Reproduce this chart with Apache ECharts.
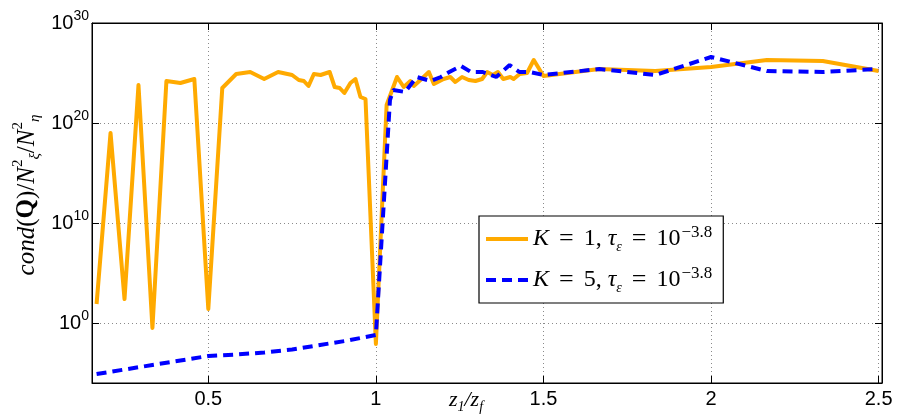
<!DOCTYPE html>
<html><head><meta charset="utf-8">
<script src="https://cdn.jsdelivr.net/npm/echarts@6/dist/echarts.min.js"></script>
<style>html,body{margin:0;padding:0;background:#fff}#c{width:897px;height:416px}</style>
</head><body><div id="c"></div>
<script>
// x axis ticks (z1/zf) and y axis ticks (decade exponents of cond(Q)/N^2/N^2)
const xTicks = [0.5, 1, 1.5, 2, 2.5];
const yTickExponents = [0, 10, 20, 30];

// Series K = 1 : x values and log10 of the plotted quantity
const k1X = [0.1667, 0.2083, 0.25, 0.2917, 0.3333, 0.375, 0.4167, 0.4583, 0.5, 0.5417, 0.5833, 0.625, 0.6667, 0.7083, 0.75,
  0.770, 0.785, 0.799, 0.815, 0.835, 0.862, 0.877, 0.892, 0.906, 0.924, 0.939, 0.954, 0.969, 1.0,
  1.032, 1.063, 1.083, 1.103, 1.113, 1.133, 1.158, 1.173, 1.202, 1.222, 1.237, 1.257, 1.277, 1.297, 1.317, 1.332, 1.349, 1.364, 1.380, 1.401, 1.411, 1.429, 1.451, 1.471, 1.5,
  1.6667, 1.8333, 2.0, 2.1667, 2.3333, 2.5];
const k1LogCond = [1.9, 19.0, 2.4, 23.8, -0.5, 24.2, 24.0, 24.4, 1.4, 23.5, 24.9, 25.1, 24.4, 25.1, 24.8,
  24.3, 24.2, 23.7, 24.9, 24.8, 25.1, 23.6, 23.5, 23.0, 24.0, 24.4, 22.6, 22.4, -2.1,
  21.8, 24.6, 23.6, 24.2, 23.7, 24.3, 25.1, 23.9, 24.4, 24.6, 24.1, 24.6, 24.3, 24.2, 24.4, 25.1, 24.8, 25.1, 24.4, 24.6, 24.4, 24.9, 25.0, 26.3, 24.7,
  25.4, 25.2, 25.6, 26.3, 26.2, 25.2];

// Series K = 5
const k5X = [0.1667, 0.25, 0.3333, 0.4167, 0.5, 0.5833, 0.6667, 0.75, 0.8333, 0.9167, 1.0,
  1.042, 1.052, 1.087, 1.122, 1.164, 1.194, 1.219, 1.254, 1.284, 1.319, 1.359, 1.399, 1.428, 1.458, 1.5,
  1.6667, 1.8333, 2.0, 2.1667, 2.3333, 2.5];
const k5LogCond = [-5.1, -4.65, -4.2, -3.75, -3.3, -3.15, -2.95, -2.65, -2.2, -1.75, -1.2,
  22.3, 23.3, 23.1, 24.6, 24.2, 24.6, 25.1, 25.7, 25.1, 25.1, 24.6, 25.8, 25.1, 25.1, 24.8,
  25.4, 24.8, 26.6, 25.2, 25.1, 25.4];

const seriesNames = ['K=1', 'K=5'];
const legendLabels = {
  'K=1': '{i|K}{eq|=}{r|1, }{i|τ}{sub|ε}{eq|=}{r|10}{sup|−3.8}',
  'K=5': '{i|K}{eq|=}{r|5, }{i|τ}{sub|ε}{eq|=}{r|10}{sup|−3.8}'
};

const pairs = (xs, ys) => xs.map((x, i) => [x, ys[i]]);
const serif = 'Liberation Serif';
const sans = 'Liberation Sans';

const chart = echarts.init(document.getElementById('c'), null, {renderer: 'canvas'});
const gridLine = {show: true, lineStyle: {color: '#8a8a8a', width: 1, type: [1, 3]}};
const blackLine = {show: true, onZero: false, lineStyle: {color: '#000', width: 1}};

chart.setOption({
  animation: false,
  backgroundColor: '#fff',
  grid: {left: 92, right: 15, top: 23, bottom: 33, show: true, borderColor: '#000', borderWidth: 1, backgroundColor: 'transparent'},
  xAxis: [{
    type: 'value', min: 0.153, max: 2.51, position: 'bottom',
    axisLine: blackLine,
    axisTick: {show: true, inside: true, length: 7, customValues: xTicks, lineStyle: {color: '#000'}},
    axisLabel: {show: true, customValues: xTicks, margin: 6, color: '#000', fontFamily: sans, fontSize: 20,
      formatter: v => String(v)},
    splitLine: gridLine
  }, {
    type: 'value', min: 0.153, max: 2.51, position: 'top',
    axisLine: blackLine,
    axisTick: {show: true, inside: true, length: 7, customValues: xTicks, lineStyle: {color: '#000'}},
    axisLabel: {show: false}, splitLine: {show: false}
  }],
  yAxis: [{
    type: 'value', min: -6, max: 30, position: 'left',
    axisLine: blackLine,
    axisTick: {show: true, inside: true, length: 7, customValues: yTickExponents, lineStyle: {color: '#000'}},
    axisLabel: {show: true, customValues: yTickExponents, margin: 3, color: '#000',
      formatter: v => '{b|10}{s|' + v + '}',
      rich: {
        b: {fontFamily: sans, fontSize: 20, lineHeight: 28, color: '#000'},
        s: {fontFamily: sans, fontSize: 14, lineHeight: 16, verticalAlign: 'top', color: '#000'}
      }},
    splitLine: gridLine
  }, {
    type: 'value', min: -6, max: 30, position: 'right',
    axisLine: blackLine,
    axisTick: {show: true, inside: true, length: 7, customValues: yTickExponents, lineStyle: {color: '#000'}},
    axisLabel: {show: false}, splitLine: {show: false}
  }],
  legend: {
    orient: 'vertical', left: 479, top: 216,
    padding: [8, 11, 8, 7], itemGap: 11, itemWidth: 42, itemHeight: 4,
    backgroundColor: '#fff', borderColor: '#000', borderWidth: 1.2, borderRadius: 0,
    data: [
      {name: seriesNames[0], icon: 'rect'},
      {name: seriesNames[1], icon: 'path://M0,0H10V4H0Z M16,0H26V4H16Z M32,0H42V4H32Z'}
    ],
    formatter: name => legendLabels[name],
    textStyle: {
      color: '#000',
      rich: {
        i: {fontFamily: serif, fontStyle: 'italic', fontSize: 24, lineHeight: 30, color: '#000'},
        r: {fontFamily: serif, fontSize: 24, lineHeight: 30, color: '#000'},
        eq: {fontFamily: serif, fontSize: 26, lineHeight: 30, padding: [0, 10, 0, 10], color: '#000'},
        sub: {fontFamily: serif, fontStyle: 'italic', fontSize: 14, lineHeight: 13, verticalAlign: 'bottom', color: '#000'},
        sup: {fontFamily: serif, fontSize: 17, lineHeight: 18, verticalAlign: 'top', padding: [0, 0, 0, 1], color: '#000'}
      }
    }
  },
  graphic: [
    {
      type: 'text', x: 466, y: 400,
      style: {
        text: '{i|z}{s|1}{r|/}{i|z}{s|f}', align: 'center', verticalAlign: 'middle',
        rich: {
          i: {fontFamily: serif, fontStyle: 'italic', fontSize: 22, lineHeight: 28, fill: '#000'},
          r: {fontFamily: serif, fontStyle: 'italic', fontSize: 22, lineHeight: 28, fill: '#000'},
          s: {fontFamily: serif, fontStyle: 'italic', fontSize: 14, lineHeight: 14, verticalAlign: 'bottom', fill: '#000'}
        }
      }
    },
    {
      type: 'text', x: 27, y: 195, rotation: Math.PI / 2,
      style: {
        text: '{i|cond}{r|(}{b|Q}{r|)/}{i|N}{sup|2}{sub|ξ}{r|/}{i|N}{sup|2}{sub|η}',
        align: 'center', verticalAlign: 'middle',
        rich: {
          i: {fontFamily: serif, fontStyle: 'italic', fontSize: 25, lineHeight: 32, fill: '#000'},
          r: {fontFamily: serif, fontSize: 25, lineHeight: 32, fill: '#000'},
          b: {fontFamily: serif, fontWeight: 'bold', fontSize: 25, lineHeight: 32, fill: '#000'},
          sup: {fontFamily: serif, fontSize: 15, lineHeight: 18, verticalAlign: 'top', fill: '#000'},
          sub: {fontFamily: serif, fontStyle: 'italic', fontSize: 15, lineHeight: 14, verticalAlign: 'bottom', fill: '#000'}
        }
      }
    }
  ],
  series: [
    {
      name: seriesNames[0], type: 'line', xAxisIndex: 0, yAxisIndex: 0,
      data: pairs(k1X, k1LogCond), showSymbol: false, symbol: 'none',
      lineStyle: {color: '#FFAA00', width: 4, join: 'round'}, itemStyle: {color: '#FFAA00'}, z: 3
    },
    {
      name: seriesNames[1], type: 'line', xAxisIndex: 0, yAxisIndex: 0,
      data: pairs(k5X, k5LogCond), showSymbol: false, symbol: 'none',
      lineStyle: {color: '#0000FF', width: 4, type: [10, 6], cap: 'butt'}, itemStyle: {color: '#0000FF'}, z: 4
    }
  ]
});
</script></body></html>
